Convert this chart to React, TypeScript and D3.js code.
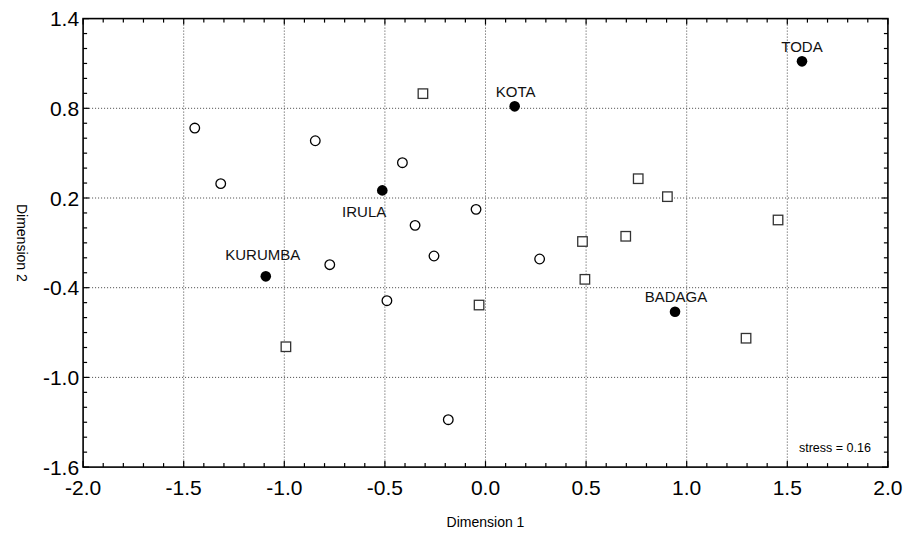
import React from "react";
import * as d3 from "d3";

// MDS configuration: five populations (filled) plus two groups of items
const populations = ["TODA", "KOTA", "IRULA", "KURUMBA", "BADAGA"];
const popDim1 = [1.573, 0.145, -0.513, -1.092, 0.942];
const popDim2 = [1.114, 0.813, 0.251, -0.324, -0.561];

const circleDim1 = [-1.445, -1.316, -0.846, -0.413, -0.047, -0.35, -0.256, 0.269, -0.774, -0.49, -0.185];
const circleDim2 = [0.668, 0.296, 0.583, 0.436, 0.124, 0.017, -0.188, -0.208, -0.246, -0.487, -1.283];

const squareDim1 = [-0.311, 0.759, 0.904, 1.454, 0.697, 0.482, 0.494, -0.032, 1.295, -0.992];
const squareDim2 = [0.898, 0.329, 0.209, 0.053, -0.056, -0.091, -0.344, -0.516, -0.738, -0.795];

const xTicks = [-2.0, -1.5, -1.0, -0.5, 0.0, 0.5, 1.0, 1.5, 2.0];
const yTicks = [-1.6, -1.0, -0.4, 0.2, 0.8, 1.4];
const stressLabel = "stress = 0.16";

// label placement relative to each population point
const labelOffset: Record<string, { dx: number; dy: number; anchor: string }> = {
  TODA: { dx: 0, dy: -9, anchor: "middle" },
  KOTA: { dx: 1, dy: -9, anchor: "middle" },
  IRULA: { dx: 4, dy: 27, anchor: "end" },
  KURUMBA: { dx: -3, dy: -16, anchor: "middle" },
  BADAGA: { dx: 1, dy: -10, anchor: "middle" },
};

const W = 908, H = 533;
const left = 83.1, right = 887.9, top = 18.6, bottom = 467.1;
const font = "'Liberation Sans', Arial, Helvetica, sans-serif";

export default function App() {
  const x = d3.scaleLinear().domain([-2, 2]).range([left, right]);
  const y = d3.scaleLinear().domain([-1.6, 1.4]).range([bottom, top]);

  const xMinor = d3.range(-20, 21).map(i => i / 10);
  const yMinor = d3.range(-16, 15).map(i => i / 10);
  const isMajor = (v: number, list: number[]) => list.some(t => Math.abs(t - v) < 1e-6);

  const sq = 9.5;

  return (
    <svg width={W} height={H} style={{ position: "absolute", left: 0, top: 0, background: "#fff" }} fontFamily={font}>
      {/* grid */}
      {xTicks.slice(1, -1).map(t => (
        <line key={"gx" + t} x1={x(t)} x2={x(t)} y1={top} y2={bottom} stroke="#444" strokeWidth={1} strokeDasharray="1,2" />
      ))}
      {yTicks.slice(1, -1).map(t => (
        <line key={"gy" + t} x1={left} x2={right} y1={y(t)} y2={y(t)} stroke="#444" strokeWidth={1} strokeDasharray="1,2" />
      ))}

      {/* inward ticks on all four sides */}
      {xMinor.map(t => {
        const len = isMajor(t, xTicks) ? 6 : 4;
        return (
          <g key={"tx" + t}>
            <line x1={x(t)} x2={x(t)} y1={bottom} y2={bottom - len} stroke="#000" strokeWidth={1.2} />
            <line x1={x(t)} x2={x(t)} y1={top} y2={top + len} stroke="#000" strokeWidth={1.2} />
          </g>
        );
      })}
      {yMinor.map(t => {
        const len = isMajor(t, yTicks) ? 6 : 4;
        return (
          <g key={"ty" + t}>
            <line x1={left} x2={left + len} y1={y(t)} y2={y(t)} stroke="#000" strokeWidth={1.2} />
            <line x1={right} x2={right - len} y1={y(t)} y2={y(t)} stroke="#000" strokeWidth={1.2} />
          </g>
        );
      })}

      {/* frame */}
      <rect x={left} y={top} width={right - left} height={bottom - top} fill="none" stroke="#000" strokeWidth={1.6} />

      {/* tick labels */}
      {xTicks.map(t => (
        <text key={"lx" + t} x={x(t)} y={bottom + 28} textAnchor="middle" fontSize={21} fill="#000">
          {t.toFixed(1)}
        </text>
      ))}
      {yTicks.map(t => (
        <text key={"ly" + t} x={left - 4} y={y(t) + 7.5} textAnchor="end" fontSize={21} fill="#000">
          {t.toFixed(1)}
        </text>
      ))}

      {/* axis titles */}
      <text x={(left + right) / 2} y={527} textAnchor="middle" fontSize={14} fill="#000">Dimension 1</text>
      <text transform={`translate(17,${(top + bottom) / 2}) rotate(90)`} textAnchor="middle" fontSize={14} fill="#000">Dimension 2</text>

      {/* open circles */}
      {circleDim1.map((d, i) => (
        <circle key={"c" + i} cx={x(d)} cy={y(circleDim2[i])} r={4.8} fill="#fff" stroke="#000" strokeWidth={1.3} />
      ))}

      {/* squares */}
      {squareDim1.map((d, i) => (
        <rect key={"s" + i} x={x(d) - sq / 2} y={y(squareDim2[i]) - sq / 2} width={sq} height={sq} fill="#fff" stroke="#333" strokeWidth={1.3} />
      ))}

      {/* populations */}
      {populations.map((p, i) => {
        const o = labelOffset[p];
        return (
          <g key={p}>
            <circle cx={x(popDim1[i])} cy={y(popDim2[i])} r={5.3} fill="#000" />
            <text x={x(popDim1[i]) + o.dx} y={y(popDim2[i]) + o.dy} textAnchor={o.anchor} fontSize={15} fill="#111">
              {p}
            </text>
          </g>
        );
      })}

      <text x={right - 17} y={452} textAnchor="end" fontSize={12.5} fill="#000">{stressLabel}</text>
    </svg>
  );
}
